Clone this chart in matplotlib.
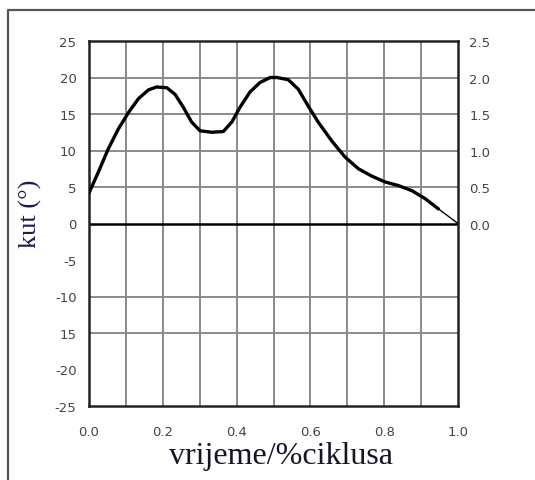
import matplotlib
matplotlib.use("Agg")
import matplotlib.pyplot as plt
from matplotlib.lines import Line2D

# data
cycle = [0.0, 0.025, 0.052, 0.079, 0.107, 0.134, 0.161, 0.183, 0.211, 0.233,
         0.256, 0.278, 0.301, 0.333, 0.364, 0.387, 0.409, 0.436, 0.463, 0.491,
         0.509, 0.540, 0.567, 0.594, 0.621, 0.658, 0.694, 0.730, 0.766, 0.802,
         0.838, 0.875, 0.911, 0.947, 1.0]
angle = [4.2, 7.0, 10.2, 12.9, 15.2, 17.1, 18.3, 18.7, 18.6, 17.7,
         15.9, 13.9, 12.7, 12.5, 12.6, 13.9, 15.9, 18.0, 19.3, 20.0,
         20.0, 19.7, 18.4, 16.1, 13.9, 11.3, 9.1, 7.5, 6.5, 5.7,
         5.2, 4.5, 3.4, 2.0, 0.0]

x_ticks = [0.0, 0.2, 0.4, 0.6, 0.8, 1.0]
x_tick_labels = ["0.0", "0.2", "0.4", "0.6", "0.8", "1.0"]
y_ticks = [25, 20, 15, 10, 5, 0, -5, -10, -15, -20, -25]
y_tick_labels = ["25", "20", "15", "10", "5", "0", "-5", "-10", "15", "-20", "-25"]
y_grid = [20, 15, 10, 5, -10, -15]
x_grid = [0.1, 0.2, 0.3, 0.4, 0.5, 0.6, 0.7, 0.8, 0.9]
right_ticks = [0.0, 0.5, 1.0, 1.5, 2.0, 2.5]
right_labels = ["0.0", "0.5", "1.0", "1.5", "2.0", "2.5"]

fig = plt.figure(figsize=(5.35, 4.81), dpi=100)
ax = fig.add_axes([89/535, 1-407/481, 369/535, 365/481])

# outer frame (top and left only)
fig.add_artist(Line2D([8/535, 8/535, 1.0], [0.0, 1-11/481, 1-11/481],
                      transform=fig.transFigure, color="#555555", lw=1.6))

ax.set_xlim(0, 1)
ax.set_ylim(-25, 25)
for g in x_grid:
    ax.axvline(g, color="#8a8a8a", lw=1.4, zorder=1)
for g in y_grid:
    ax.axhline(g, color="#8a8a8a", lw=1.4, zorder=1)
ax.axhline(0, color="black", lw=1.8, zorder=2)

# thick main stroke, thin final segment
ax.plot(cycle[:-1], angle[:-1], color="black", lw=2.4, zorder=3,
        solid_capstyle="round", solid_joinstyle="round")
ax.plot(cycle[-2:], angle[-2:], color="black", lw=1.0, zorder=3)

ax.set_xticks(x_ticks)
ax.set_xticklabels(x_tick_labels)
ax.set_yticks(y_ticks)
ax.set_yticklabels(y_tick_labels)
ax.tick_params(axis="both", length=0, labelsize=9.5, labelcolor="#444444",
               labelfontfamily="DejaVu Sans")
ax.tick_params(axis="x", pad=14)
ax.tick_params(axis="y", pad=9)

for s in ax.spines.values():
    s.set_color("#222222")
    s.set_linewidth(1.8)

ax2 = ax.twinx()
ax2.set_ylim(-2.5, 2.5)
ax2.set_yticks(right_ticks)
ax2.set_yticklabels(right_labels)
ax2.tick_params(axis="y", length=0, pad=8, labelsize=9.5, labelcolor="#444444")
for s in ax2.spines.values():
    s.set_visible(False)

ax.set_xlabel("vrijeme/%ciklusa", fontsize=23, family="Liberation Serif",
              color="#141428")
ax.xaxis.set_label_coords(0.52, -0.095)
ax.set_ylabel("kut (°)", fontsize=19, family="Liberation Serif", color="#1c1c4c")
ax.yaxis.set_label_coords(-0.128, 0.53)

fig.savefig("out.png", dpi=100)
